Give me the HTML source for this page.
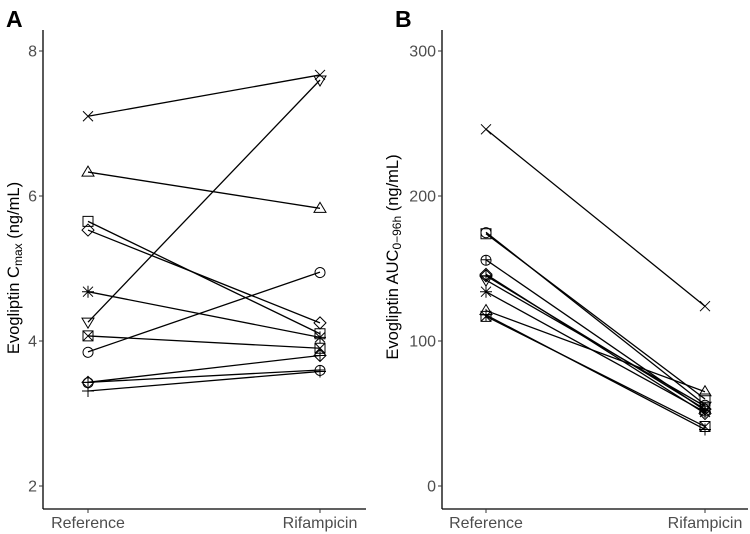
<!DOCTYPE html>
<html><head><meta charset="utf-8"><style>
html,body{margin:0;padding:0;background:#fff}
svg{display:block;font-family:"Liberation Sans",sans-serif}
</style></head><body>
<svg id="c" width="750" height="534"></svg>
<script>
const categories = ["Reference","Rifampicin"];
const shapes = ["x","triup","square","diamond","star","tridown","squarex","circle","diamondplus","circleplus","plus"];
const cmaxRef = [7.1,6.33,5.65,5.53,4.68,4.26,4.07,3.85,3.43,3.43,3.31];
const cmaxRif = [7.67,5.83,4.1,4.25,4.05,7.6,3.9,4.95,3.8,3.6,3.58];
const aucShapes = ["x","circle","square","circleplus","diamond","diamondplus","tridown","star","triup","squarex","plus"];
const aucRef = [246,175,174,156,146,145,142,134,121,117,118];
const aucRif = [124,56,60,52,50,53,55,51,65,41,39];
const ticksA = [2,4,6,8];
const ticksB = [0,100,200,300];

const svg = document.getElementById('c');
const NS = "http://www.w3.org/2000/svg";
function mk(t, a, parent){const e=document.createElementNS(NS,t);for(const k in a)e.setAttribute(k,a[k]);(parent||svg).appendChild(e);return e;}

function marker(g, s, x, y){
  const st={fill:"none",stroke:"#000","stroke-width":1};
  const r=5;
  const p=(d)=>{const e=mk('path',Object.assign({d},st),g);};
  if(s==="x") p(`M${x-r} ${y-r}L${x+r} ${y+r}M${x-r} ${y+r}L${x+r} ${y-r}`);
  if(s==="plus") p(`M${x-r-1} ${y}L${x+r+1} ${y}M${x} ${y-r-1}L${x} ${y+r+1}`);
  if(s==="star") p(`M${x-r} ${y-r}L${x+r} ${y+r}M${x-r} ${y+r}L${x+r} ${y-r}M${x-r-1} ${y}L${x+r+1} ${y}M${x} ${y-r-1}L${x} ${y+r+1}`);
  if(s==="triup") p(`M${x} ${y-r-1}L${x+r+1} ${y+r-1}L${x-r-1} ${y+r-1}Z`);
  if(s==="tridown") p(`M${x} ${y+r+1}L${x+r+1} ${y-r+1}L${x-r-1} ${y-r+1}Z`);
  if(s==="square") p(`M${x-r} ${y-r}h${2*r}v${2*r}h${-2*r}Z`);
  if(s==="squarex") p(`M${x-r} ${y-r}h${2*r}v${2*r}h${-2*r}ZM${x-r} ${y-r}L${x+r} ${y+r}M${x-r} ${y+r}L${x+r} ${y-r}`);
  if(s==="diamond") p(`M${x} ${y-r-1}L${x+r+1} ${y}L${x} ${y+r+1}L${x-r-1} ${y}Z`);
  if(s==="diamondplus") p(`M${x} ${y-r-1}L${x+r+1} ${y}L${x} ${y+r+1}L${x-r-1} ${y}ZM${x-r-1} ${y}L${x+r+1} ${y}M${x} ${y-r-1}L${x} ${y+r+1}`);
  if(s==="circle") p(`M${x+r} ${y}A${r} ${r} 0 1 1 ${x+r-0.01} ${y-0.1}Z`);
  if(s==="circleplus") p(`M${x+r} ${y}A${r} ${r} 0 1 1 ${x+r-0.01} ${y-0.1}ZM${x-r} ${y}L${x+r} ${y}M${x} ${y-r}L${x} ${y+r}`);
}

function panel(cfg){
  const {x0,x1,xs,ymin,ymax,py0,py1,ticks,refs,rifs,shp,name} = cfg;
  const Y = v => py0 + (v-ymin)/(ymax-ymin)*(py1-py0);
  const g = mk('g',{});  
  let e = mk('line',{x1:x0,y1:30,x2:x0,y2:509,stroke:"#000","stroke-width":1.3},g);
   
  e = mk('line',{x1:x0,y1:509,x2:x1,y2:509,stroke:"#000","stroke-width":1.3},g);
   
  ticks.forEach(t=>{
    const y=Y(t);
    let l=mk('line',{x1:x0-4,y1:y,x2:x0,y2:y,stroke:"#333"},g);
     
    let tx=mk('text',{x:x0-6,y:y+5.5,"text-anchor":"end","font-size":16,fill:"#4d4d4d"},g);
    tx.textContent=t;
     
  });
  categories.forEach((c,i)=>{
    let l=mk('line',{x1:xs[i],y1:509,x2:xs[i],y2:513,stroke:"#333"},g);
     
    let tx=mk('text',{x:xs[i],y:528,"text-anchor":"middle","font-size":16,fill:"#4d4d4d"},g);
    tx.textContent=c;
     
  });
  refs.forEach((v,i)=>{
    let l=mk('line',{x1:xs[0],y1:Y(v),x2:xs[1],y2:Y(rifs[i]),stroke:"#000","stroke-width":1.3},g);
     
    marker(g,shp[i],xs[0],Y(v));
    marker(g,shp[i],xs[1],Y(rifs[i]));
  });
}

panel({name:"panel-a",x0:43,x1:366,xs:[88,320],ymin:2,ymax:8,py0:486,py1:51,ticks:ticksA,refs:cmaxRef,rifs:cmaxRif,shp:shapes});
panel({name:"panel-b",x0:442,x1:748,xs:[486,705],ymin:0,ymax:300,py0:486,py1:51,ticks:ticksB,refs:aucRef,rifs:aucRif,shp:aucShapes});
</script>
<svg style="position:absolute;left:0;top:0" width="750" height="534">
<text x="6" y="27" font-size="23" font-weight="bold" font-family="Liberation Sans,sans-serif">A</text>
<text x="395" y="27" font-size="23" font-weight="bold" font-family="Liberation Sans,sans-serif">B</text>
<text transform="translate(19,268) rotate(-90)" text-anchor="middle" font-size="16.5" font-family="Liberation Sans,sans-serif">Evogliptin C<tspan font-size="12" dy="3">max</tspan><tspan dy="-3"> (ng/mL)</tspan></text>
<text transform="translate(398,257) rotate(-90)" text-anchor="middle" font-size="16.5" font-family="Liberation Sans,sans-serif">Evogliptin AUC<tspan font-size="12" dy="3">0−96h</tspan><tspan dy="-3"> (ng/mL)</tspan></text>
</svg>
</body></html>
